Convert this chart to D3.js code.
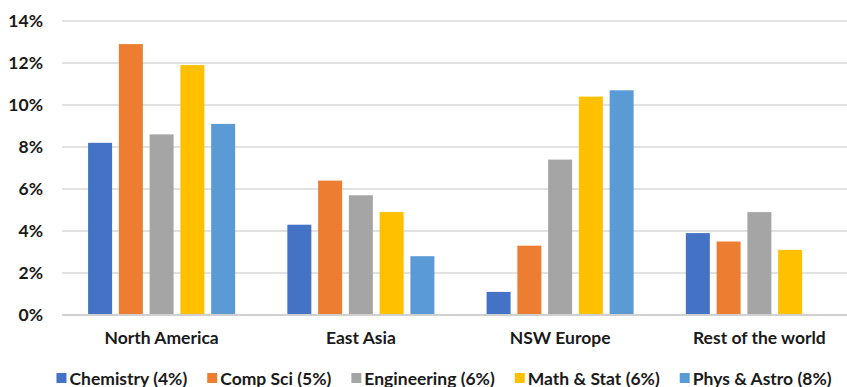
<!DOCTYPE html>
<html>
<head>
<meta charset="utf-8">
<script src="https://cdn.jsdelivr.net/npm/d3@7"></script>
<style>
  html, body { margin: 0; padding: 0; background: #fff; }
  svg { display: block; }
  text { font-family: Lato, "Open Sans", "Liberation Sans", sans-serif; font-weight: 700; fill: #1a1a1a; }
</style>
</head>
<body>
<svg id="chart" width="847" height="387"></svg>
<script>
// Share of graduates by region, per discipline (percent)
const regions = ["North America", "East Asia", "NSW Europe", "Rest of the world"];
const seriesNames = ["Chemistry (4%)", "Comp Sci (5%)", "Engineering (6%)", "Math & Stat (6%)", "Phys & Astro (8%)"];
const chemistry  = [8.2, 4.3, 1.1, 3.9];
const compSci    = [12.9, 6.4, 3.3, 3.5];
const engineering = [8.6, 5.7, 7.4, 4.9];
const mathStat   = [11.9, 4.9, 10.4, 3.1];
const physAstro  = [9.1, 2.8, 10.7, null];
const yTicks = [0, 2, 4, 6, 8, 10, 12, 14];
const colors = ["#4472C4", "#ED7D31", "#A5A5A5", "#FFC000", "#5B9BD5"];

const seriesValues = [chemistry, compSci, engineering, mathStat, physAstro];

const svg = d3.select("#chart");
const plot = { left: 62, right: 859, top: 21, bottom: 315 };
const fontSize = 17.5;

const y = d3.scaleLinear().domain([0, 14]).range([plot.bottom, plot.top]);
const x0 = d3.scaleBand().domain(regions).range([plot.left, plot.right])
  .paddingInner(0.262).paddingOuter(0.131);
const x1 = d3.scaleBand().domain(seriesNames).range([0, x0.bandwidth()])
  .paddingInner(0.22).paddingOuter(0);

// gridlines
svg.append("g").selectAll("line")
  .data(yTicks.filter(t => t > 0))
  .join("line")
  .attr("x1", plot.left).attr("x2", plot.right)
  .attr("y1", d => y(d)).attr("y2", d => y(d))
  .attr("stroke", "#d9d9d9").attr("stroke-width", 1.3);

// y axis labels
const yAxis = d3.axisLeft(y).tickValues(yTicks).tickFormat(d => d + "%").tickSize(0).tickPadding(0);
const yg = svg.append("g").attr("transform", `translate(${plot.left - 19},0)`).call(yAxis);
yg.select(".domain").remove();
yg.selectAll("text").attr("font-size", fontSize).attr("fill", "#1a1a1a")
  .style("font-family", "Lato, 'Open Sans', sans-serif").style("font-weight", 700);

// bars
const groups = svg.append("g").selectAll("g")
  .data(regions)
  .join("g")
  .attr("transform", d => `translate(${x0(d)},0)`);

groups.selectAll("rect")
  .data((r, i) => seriesNames.map((s, k) => ({ s, k, v: seriesValues[k][i] })).filter(d => d.v != null))
  .join("rect")
  .attr("x", d => x1(d.s))
  .attr("width", x1.bandwidth())
  .attr("y", d => y(d.v))
  .attr("height", d => y(0) - y(d.v))
  .attr("fill", d => colors[d.k]);

// baseline
svg.append("line")
  .attr("x1", plot.left).attr("x2", plot.right)
  .attr("y1", y(0)).attr("y2", y(0))
  .attr("stroke", "#d0d0d0").attr("stroke-width", 2);

// category axis
const xAxis = d3.axisBottom(x0).tickSize(0).tickPadding(0);
const xg = svg.append("g").attr("transform", `translate(0,${y(0) + 17})`).call(xAxis);
xg.select(".domain").remove();
xg.selectAll("text").attr("font-size", fontSize).attr("fill", "#1a1a1a")
  .style("font-family", "Lato, 'Open Sans', sans-serif").style("font-weight", 700);

// legend
const legend = svg.append("g");
const items = legend.selectAll("g").data(seriesNames).join("g");
items.append("rect").attr("width", 10).attr("height", 10).attr("y", 373)
  .attr("fill", (d, i) => colors[i]);
items.append("text").attr("x", 13).attr("y", 384.5).attr("font-size", fontSize).text(d => d);
const widths = [];
items.each(function () { widths.push(this.querySelector("text").getComputedTextLength()); });
const gap = 20;
const total = d3.sum(widths, w => w + 13) + gap * (widths.length - 1);
let cx = 444 - total / 2;
items.attr("transform", (d, i) => {
  const t = `translate(${cx},0)`;
  cx += widths[i] + 13 + gap;
  return t;
});
</script>
</body>
</html>
